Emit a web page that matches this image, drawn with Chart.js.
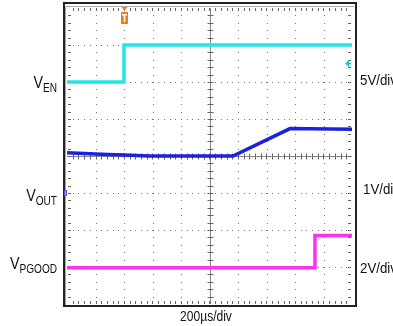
<!DOCTYPE html>
<html>
<head>
<meta charset="utf-8">
<script src="https://cdn.jsdelivr.net/npm/chart.js@4/dist/chart.umd.min.js"></script>
<style>
  html, body { margin: 0; padding: 0; background: #fff; }
  #wrap { position: relative; width: 393px; height: 326px; }
</style>
</head>
<body>
<div id="wrap"><canvas id="scope"></canvas></div>
<script>
// time axis: 200us per division, 10 divisions
const timeDivs = [0, 200, 400, 600, 800, 1000, 1200, 1400, 1600, 1800, 2000];
// vertical: 8 divisions, values below are in divisions from the bottom
const levelDivs = [0, 1, 2, 3, 4, 5, 6, 7, 8];

// V_EN trace (5V/div)
const venTime = [0, 400, 400, 2000];
const venLevel = [6.0, 6.0, 7.0, 7.0];

// V_OUT trace (1V/div)
const voutTime = [0, 120, 240, 400, 580, 1165, 1565, 2000];
const voutLevel = [4.09, 4.07, 4.05, 4.03, 4.0, 4.0, 4.74, 4.72];

// V_PGOOD trace (2V/div)
const pgoodTime = [0, 1740, 1740, 2000];
const pgoodLevel = [0.98, 0.98, 1.85, 1.85];

const channelNames = [["V", "EN"], ["V", "OUT"], ["V", "PGOOD"]];
const channelScales = ["5V/div", "1V/div", "2V/div"];
const timeScale = "200\u00b5s/div";

const triggerTime = 400;

function pts(xs, ys) {
  return xs.map((x, i) => ({ x: x, y: ys[i] }));
}

// grid, frame and tick marks under the traces
const scopeGrid = {
  id: "scopeGrid",
  beforeDatasetsDraw(chart) {
    const ctx = chart.ctx;
    const xs = chart.scales.x, ys = chart.scales.y;
    const L = xs.left, R = xs.right, T = ys.top, B = ys.bottom;
    const stepX = (xs.getPixelForValue(200) - xs.getPixelForValue(0)) / 5;
    const stepY = (ys.getPixelForValue(0) - ys.getPixelForValue(1)) / 5;
    ctx.save();

    // outer frame
    ctx.strokeStyle = "#222";
    ctx.lineWidth = 2;
    ctx.strokeRect(64, 3, 292, 303);
    ctx.strokeStyle = "#aaa";
    ctx.lineWidth = 1;
    ctx.beginPath();
    ctx.moveTo(65.5, 6.5); ctx.lineTo(354.5, 6.5);
    ctx.moveTo(65.5, 6.5); ctx.lineTo(65.5, 305);
    ctx.stroke();

    // dotted division lines
    ctx.fillStyle = "#777";
    timeDivs.slice(1, -1).forEach(t => {
      if (t === 1000) return;
      const px = Math.round(xs.getPixelForValue(t));
      for (let y = T + stepY; y < B - 1; y += stepY) ctx.fillRect(px, Math.round(y), 1, 1);
    });
    levelDivs.slice(1, -1).forEach(l => {
      if (l === 4) return;
      const py = Math.round(ys.getPixelForValue(l));
      for (let x = L + stepX; x < R - 1; x += stepX) ctx.fillRect(Math.round(x), py, 1, 1);
    });

    // centre cross with minor ticks
    const cx = Math.round(xs.getPixelForValue(1000)) + 0.5;
    const cy = Math.round(ys.getPixelForValue(4)) + 0.5;
    ctx.strokeStyle = "#888";
    ctx.beginPath();
    ctx.moveTo(cx, T); ctx.lineTo(cx, B);
    ctx.moveTo(L, cy); ctx.lineTo(R, cy);
    ctx.stroke();
    ctx.strokeStyle = "#666";
    ctx.beginPath();
    for (let y = T + stepY; y < B - 1; y += stepY) {
      const py = Math.round(y) + 0.5;
      ctx.moveTo(cx - 3, py); ctx.lineTo(cx + 3, py);
      ctx.moveTo(L + 1, py); ctx.lineTo(L + 4, py);
      ctx.moveTo(R - 4, py); ctx.lineTo(R - 1, py);
    }
    for (let x = L + stepX; x < R - 1; x += stepX) {
      const px = Math.round(x) + 0.5;
      ctx.moveTo(px, cy - 3); ctx.lineTo(px, cy + 3);
      ctx.moveTo(px, T); ctx.lineTo(px, T + 3);
      ctx.moveTo(px, B - 3); ctx.lineTo(px, B);
    }
    ctx.stroke();
    ctx.restore();
  }
};

function squeezeText(ctx, text, x, y, font, align, k) {
  ctx.save();
  ctx.font = font;
  ctx.textAlign = align;
  ctx.textBaseline = "alphabetic";
  ctx.translate(x, y);
  ctx.scale(k, 1);
  ctx.fillText(text, 0, 0);
  ctx.restore();
  ctx.font = font;
  return ctx.measureText(text).width * k;
}

// labels and markers on top
const scopeLabels = {
  id: "scopeLabels",
  afterDatasetsDraw(chart) {
    const ctx = chart.ctx;
    const xs = chart.scales.x, ys = chart.scales.y;
    const fam = "'Liberation Sans', Arial, sans-serif";
    ctx.save();
    ctx.fillStyle = "#111";

    // channel names, right aligned to the frame
    const nameLevels = [6.0, 2.95, 1.1];
    channelNames.forEach((n, i) => {
      const base = ys.getPixelForValue(nameLevels[i]) + 6;
      const right = 57;
      ctx.font = "12px " + fam;
      const subW = ctx.measureText(n[1]).width * 0.84;
      squeezeText(ctx, n[1], right - subW, base + 4, "12px " + fam, "left", 0.84);
      squeezeText(ctx, n[0], right - subW, base, "17px " + fam, "right", 0.84);
    });

    // V/div labels on the right
    const scaleLevels = [6.05, 3.1, 0.97];
    const scaleLeft = [360, 363, 360];
    channelScales.forEach((s, i) => {
      const base = ys.getPixelForValue(scaleLevels[i]) + 5;
      squeezeText(ctx, s, scaleLeft[i], base, "14px " + fam, "left", 0.95);
    });

    // time base
    squeezeText(ctx, timeScale, 206, 321, "14px " + fam, "center", 0.86);

    // trigger marker
    const tx = Math.round(xs.getPixelForValue(triggerTime)) + 0.5;
    ctx.fillStyle = "#f07c1c";
    ctx.beginPath();
    ctx.moveTo(tx - 3, 7); ctx.lineTo(tx + 3, 7); ctx.lineTo(tx, 11); ctx.closePath();
    ctx.fill();
    ctx.fillRect(tx - 3.5, 12, 7, 12);
    ctx.fillStyle = "#fff";
    ctx.fillRect(tx - 2.5, 14, 5, 1.5);
    ctx.fillRect(tx - 0.75, 14, 1.5, 8);

    // trigger level arrow (right edge)
    const ly = ys.getPixelForValue(6.5);
    ctx.fillStyle = "#18c8c8";
    ctx.beginPath();
    ctx.moveTo(345, ly); ctx.lineTo(349, ly - 3.5); ctx.lineTo(349, ly + 3.5); ctx.closePath();
    ctx.fill();
    ctx.fillRect(349, ly - 1, 2, 2);

    // V_OUT ground marker
    const gy = ys.getPixelForValue(3);
    ctx.strokeStyle = "#5050d0";
    ctx.lineWidth = 1;
    ctx.strokeRect(64.5, gy - 2.5, 2, 5);
    ctx.restore();
  }
};

new Chart(document.getElementById("scope"), {
  type: "line",
  data: {
    datasets: [
      { label: "VEN", data: pts(venTime, venLevel), borderColor: "#22e6e6", borderWidth: 3.5 },
      { label: "VOUT", data: pts(voutTime, voutLevel), borderColor: "#1c22dc", borderWidth: 3.5 },
      { label: "VPGOOD", data: pts(pgoodTime, pgoodLevel), borderColor: "#ff30f4", borderWidth: 3.5 }
    ]
  },
  options: {
    responsive: true,
    maintainAspectRatio: false,
    animation: false,
    layout: { padding: { left: 67, right: 41, top: 8, bottom: 22 } },
    elements: { point: { radius: 0 }, line: { tension: 0 } },
    plugins: { legend: { display: false }, tooltip: { enabled: false } },
    scales: {
      x: { type: "linear", min: 0, max: 2000, display: false },
      y: { type: "linear", min: 0, max: 8, display: false }
    }
  },
  plugins: [scopeGrid, scopeLabels]
});
</script>
</body>
</html>
